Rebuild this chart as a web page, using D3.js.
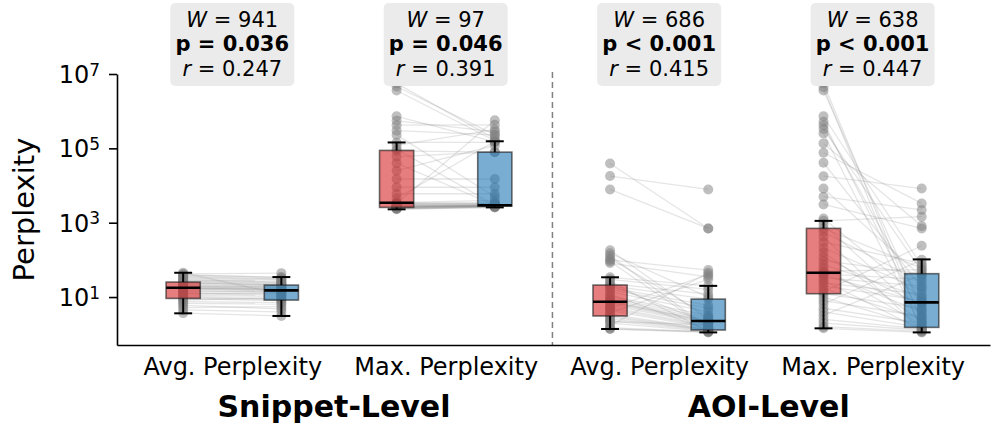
<!DOCTYPE html>
<html>
<head>
<meta charset="utf-8">
<script src="https://cdn.jsdelivr.net/npm/d3@7"></script>
<style>
  body { margin: 0; background: #fff; }
  text { font-family: "DejaVu Sans", sans-serif; }
</style>
</head>
<body>
<svg id="chart" width="997" height="433"></svg>
<script>
// categories and labels
var groups = ["Avg. Perplexity", "Max. Perplexity", "Avg. Perplexity", "Max. Perplexity"];
var levels = ["Snippet-Level", "AOI-Level"];
var statW = ["941", "97", "686", "638"];
var statP = ["= 0.036", "= 0.046", "< 0.001", "< 0.001"];
var statR = ["0.247", "0.391", "0.415", "0.447"];
var yTicks = [1e1, 1e3, 1e5, 1e7];

// box stats: [whisker low, q1, median, q3, whisker high]
var boxRed = [[3.65, 9.2, 17.8, 25.3, 45], [2290, 2580, 3430, 88000, 144000], [1.38, 3.1, 7.5, 21, 34], [1.44, 12.3, 45, 703, 1120]];
var boxBlue = [[3.1, 8.3, 15.1, 21, 34.5], [2580, 2800, 2950, 79000, 155000], [1.12, 1.3, 2.26, 8.8, 20], [1.12, 1.53, 7.2, 42.5, 103]];

// paired values per participant (red = left box, blue = right box)
var snipAvgRed = [3.7, 4.5, 5.2, 6.0, 6.8, 7.5, 8.3, 9.0, 9.5, 10.2, 11, 12, 12.5, 13, 14, 15, 16, 16.5, 17, 17.5, 18, 18.5, 19, 20, 21, 22, 23, 24, 25, 26, 27, 28, 30, 32, 34, 36, 38, 40, 42, 45];
var snipAvgBlue = [3.1, 4.0, 5.5, 4.8, 6.5, 7.0, 9.5, 8.0, 8.5, 9.0, 10.5, 13, 11, 12, 14, 13.5, 15, 18, 15, 15.5, 16, 20, 16.5, 17, 18.5, 19, 22, 20.5, 21, 23, 24, 27, 25, 28, 30, 31, 34.5, 33, 44, 12];

var snipMaxRed = [2290, 2350, 2400, 2450, 2500, 2550, 2580, 2600, 2650, 2700, 2750, 2800, 2850, 2900, 3000, 3100, 3200, 3300, 3400, 3450, 4500, 6000, 9000, 15000, 25000, 40000, 60000, 85000, 95000, 120000, 144000, 230000, 300000, 420000, 550000, 730000, 3600000, 4600000, 5600000, 3300];
var snipMaxBlue = [2580, 2600, 2650, 2700, 2750, 2800, 2800, 2800, 2850, 2850, 2900, 2900, 2950, 2950, 3000, 3100, 3200, 3300, 3400, 4000, 155000, 6000, 9000, 15000, 120000, 2950, 80000, 79000, 3000, 320000, 144000, 5000, 230000, 430000, 280000, 150000, 160000, 230000, 180000, 570000];

var aoiAvgRed = [1.38, 1.5, 1.7, 2.0, 2.3, 2.6, 2.9, 3.1, 3.4, 3.8, 4.3, 4.8, 5.3, 6.0, 6.7, 7.2, 7.5, 7.8, 8.5, 9.5, 10.5, 12, 14, 16, 18, 20, 21, 23, 26, 30, 34, 82, 90, 100, 110, 130, 150, 182, 7860, 18000, 39000, 1.4, 2.2, 5.0];
var aoiAvgBlue = [1.12, 1.15, 45, 1.2, 1.25, 1.3, 1.3, 1.35, 1.4, 30, 1.5, 1.6, 1.7, 1.9, 2.0, 2.1, 2.2, 2.3, 2.5, 2.8, 3.2, 1.3, 4, 5, 6, 8.8, 2.0, 12, 1.2, 16, 20, 35, 1.4, 53, 3, 1.5, 10, 2.5, 700, 7860, 700, 1.15, 1.8, 40];

var aoiMaxRed = [1.44, 1.6, 2.0, 2.5, 3.2, 4.0, 5.0, 6.5, 8.0, 10, 12.3, 14, 17, 20, 24, 28, 33, 38, 42, 45, 50, 60, 75, 95, 120, 160, 210, 300, 420, 560, 703, 900, 1120, 1300, 3100, 5000, 8300, 17800, 41000, 76000, 136000, 250000, 330000, 420000, 520000, 730000, 3600000, 4400000, 5600000];
var aoiMaxBlue = [1.12, 1.2, 1.3, 1.4, 40, 1.5, 2.0, 100, 3, 1.6, 5, 240, 2.5, 8, 12, 1.3, 20, 7.2, 30, 4, 55, 1.8, 10, 42, 6, 2.2, 15, 80, 1.25, 25, 60, 3.5, 1450, 9, 700, 2200, 35, 8300, 18, 3300, 810, 1.5, 50, 7, 2.8, 70, 4.5, 1.15, 2.0];

var redSets = [snipAvgRed, snipMaxRed, aoiAvgRed, aoiMaxRed];
var blueSets = [snipAvgBlue, snipMaxBlue, aoiAvgBlue, aoiMaxBlue];

var svg = d3.select("#chart");
var plotLeft = 117, plotRight = 990, plotTop = 74, plotBottom = 345;

var x = d3.scaleLinear().domain([-0.54, 3.55]).range([plotLeft, plotRight]);
var y = d3.scaleLog().domain([0.513, 1e7]).range([plotBottom, plotTop]);

var offset = 0.23, halfBox = 0.08, halfCap = 0.042;

// dashed separator between levels
svg.append("line")
    .attr("x1", x(1.5)).attr("x2", x(1.5))
    .attr("y1", plotTop - 2).attr("y2", plotBottom)
    .attr("stroke", "#808080").attr("stroke-width", 1.5)
    .attr("stroke-dasharray", "6,4");

// pair lines
var pairs = [];
for (var g = 0; g < 4; g++) {
    for (var j = 0; j < redSets[g].length; j++) {
        pairs.push({g: g, a: redSets[g][j], b: blueSets[g][j]});
    }
}
svg.append("g").selectAll("line")
    .data(pairs)
    .enter()
    .append("line")
    .attr("x1", function (d) { return x(d.g - offset); })
    .attr("x2", function (d) { return x(d.g + offset); })
    .attr("y1", function (d) { return y(d.a); })
    .attr("y2", function (d) { return y(d.b); })
    .attr("stroke", "#888")
    .attr("stroke-opacity", 0.22)
    .attr("stroke-width", 1.3);

// boxes
function drawBox(stats, xc, color) {
    var gb = svg.append("g");
    var x0 = x(xc - halfBox), x1 = x(xc + halfBox);
    gb.append("rect")
        .attr("x", x0).attr("width", x1 - x0)
        .attr("y", y(stats[3])).attr("height", y(stats[1]) - y(stats[3]))
        .attr("fill", color).attr("fill-opacity", 0.6)
        .attr("stroke", "#222").attr("stroke-opacity", 0.65).attr("stroke-width", 1.6);
    gb.append("line")
        .attr("x1", x(xc)).attr("x2", x(xc))
        .attr("y1", y(stats[3])).attr("y2", y(stats[4]))
        .attr("stroke", "#000").attr("stroke-width", 2);
    gb.append("line")
        .attr("x1", x(xc)).attr("x2", x(xc))
        .attr("y1", y(stats[1])).attr("y2", y(stats[0]))
        .attr("stroke", "#000").attr("stroke-width", 2);
    [stats[0], stats[4]].forEach(function (v) {
        gb.append("line")
            .attr("x1", x(xc - halfCap)).attr("x2", x(xc + halfCap))
            .attr("y1", y(v)).attr("y2", y(v))
            .attr("stroke", "#000").attr("stroke-width", 2);
    });
    gb.append("line")
        .attr("x1", x0).attr("x2", x1)
        .attr("y1", y(stats[2])).attr("y2", y(stats[2]))
        .attr("stroke", "#000").attr("stroke-width", 2.6);
}

// points
var pts = [];
pairs.forEach(function (d) {
    pts.push({xc: d.g - offset, v: d.a});
    pts.push({xc: d.g + offset, v: d.b});
});
svg.append("g").selectAll("circle")
    .data(pts)
    .enter()
    .append("circle")
    .attr("cx", function (d) { return x(d.xc); })
    .attr("cy", function (d) { return y(d.v); })
    .attr("r", 5)
    .attr("fill", "#808080")
    .attr("fill-opacity", 0.5);

for (var k = 0; k < 4; k++) {
    drawBox(boxRed[k], k - offset, "#d62728");
    drawBox(boxBlue[k], k + offset, "#1f77b4");
}

// y axis
var yAxis = svg.append("g")
    .attr("transform", "translate(" + plotLeft + ",0)")
    .call(d3.axisLeft(y).tickValues(yTicks).tickSize(8).tickSizeOuter(0).tickPadding(9).tickFormat(""));
yAxis.select(".domain").attr("stroke-width", 1.6);
yAxis.selectAll(".tick line").attr("stroke-width", 1.6);
yAxis.selectAll(".tick text").remove();
yAxis.selectAll(".tick").append("text")
    .attr("x", -17)
    .attr("dy", "0.36em")
    .attr("text-anchor", "end")
    .attr("fill", "#000")
    .style("font-size", "24px")
    .each(function (d) {
        var t = d3.select(this);
        t.append("tspan").text("10");
        t.append("tspan").attr("dy", "-0.45em").style("font-size", "17px")
            .text(Math.round(Math.log10(d)));
    });

svg.append("text")
    .attr("transform", "translate(34," + ((plotTop + plotBottom) / 2) + ") rotate(-90)")
    .attr("text-anchor", "middle")
    .style("font-size", "29px")
    .text("Perplexity");

// x axis
var xAxis = svg.append("g")
    .attr("transform", "translate(0," + plotBottom + ")")
    .call(d3.axisBottom(x).tickValues([0, 1, 2, 3]).tickSize(0).tickSizeOuter(0).tickPadding(13)
        .tickFormat(function (i) { return groups[i]; }));
xAxis.select(".domain").attr("stroke-width", 1.6);
xAxis.selectAll(".tick text").style("font-size", "24px").style("font-family", "DejaVu Sans");

svg.selectAll(".level")
    .data(levels)
    .enter()
    .append("text")
    .attr("class", "level")
    .attr("x", function (d, i) { return [0.335, 0.771][i] * 997; })
    .attr("y", 417)
    .attr("text-anchor", "middle")
    .style("font-size", "30px")
    .style("font-weight", "bold")
    .text(function (d) { return d; });

// stat annotations
var stat = svg.selectAll(".stat")
    .data(groups)
    .enter()
    .append("g")
    .attr("class", "stat")
    .attr("transform", function (d, i) { return "translate(" + x(i) + ",0)"; });
stat.append("rect")
    .attr("x", -62).attr("y", 3).attr("width", 124).attr("height", 83)
    .attr("rx", 5).attr("fill", "#ebebeb");
stat.append("text").attr("y", 27).attr("text-anchor", "middle").style("font-size", "21px")
    .each(function (d, i) {
        var t = d3.select(this);
        t.append("tspan").style("font-style", "italic").text("W");
        t.append("tspan").text(" = " + statW[i]);
    });
stat.append("text").attr("y", 51).attr("text-anchor", "middle").style("font-size", "21px")
    .style("font-weight", "bold")
    .text(function (d, i) { return "p " + statP[i]; });
stat.append("text").attr("y", 76).attr("text-anchor", "middle").style("font-size", "21px")
    .each(function (d, i) {
        var t = d3.select(this);
        t.append("tspan").style("font-style", "italic").text("r");
        t.append("tspan").text(" = " + statR[i]);
    });
</script>
</body>
</html>
